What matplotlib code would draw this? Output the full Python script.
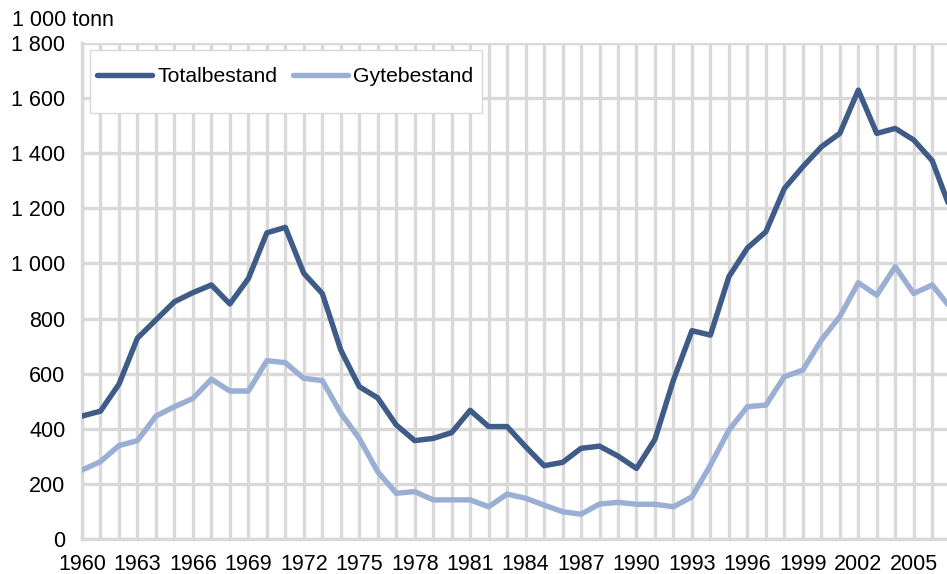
import matplotlib
matplotlib.use("Agg")
import matplotlib.pyplot as plt
from matplotlib.patches import Rectangle

plt.rcParams['font.family'] = ['Liberation Sans', 'DejaVu Sans']

years = list(range(1960, 2008))
totalbestand = [446, 464, 562, 729, 795, 861, 894, 922, 853, 945, 1111, 1131,
                964, 891, 686, 553, 512, 414, 357, 365, 386, 467, 408, 408,
                335, 266, 278, 329, 337, 301, 256, 362, 577, 756, 740, 952,
                1056, 1115, 1272, 1351, 1423, 1472, 1629, 1472, 1490, 1448,
                1373, 1195]
gytebestand = [250, 281, 339, 357, 446, 480, 510, 580, 537, 537, 647, 640,
               583, 575, 457, 365, 244, 166, 172, 142, 142, 142, 117, 163,
               148, 123, 99, 90, 127, 133, 126, 126, 117, 153, 268, 395,
               480, 486, 589, 613, 722, 807, 930, 885, 988, 891, 922, 838]
xtick_years = list(range(1960, 2007, 3))
yticks = list(range(0, 1801, 200))

W, H = 947, 574
fig = plt.figure(figsize=(W/100, H/100), dpi=100)
ax = fig.add_axes([82/W, 1 - 539/H, 1 - 82/W, (539 - 43)/H])

grid_c = '#d9d9d9'
for y in yticks:
    ax.axhline(y, color=grid_c, lw=2.4, zorder=1)
for yr in years:
    ax.axvline(yr, color=grid_c, lw=2.4, zorder=1)

ax.plot(years, totalbestand, color='#3f5b87', lw=3.9, label='Totalbestand',
        solid_capstyle='round', zorder=3)
ax.plot(years, gytebestand, color='#9aafd3', lw=3.9, label='Gytebestand',
        solid_capstyle='round', zorder=3)

ax.set_xlim(1960, 2006.8)
ax.set_ylim(0, 1800)
ax.set_xticks(xtick_years)
ax.set_xticklabels([str(y) for y in xtick_years])
ax.set_yticks(yticks)
ax.set_yticklabels([f"{y:,}".replace(",", " ") for y in yticks])
ax.tick_params(axis='both', length=0, labelsize=15.5)
ax.tick_params(axis='y', pad=12)
ax.tick_params(axis='x', pad=10.5)
for s in ['top', 'right']:
    ax.spines[s].set_visible(False)
for s in ['left', 'bottom']:
    ax.spines[s].set_color(grid_c)
    ax.spines[s].set_linewidth(2.4)

# legend box
box = Rectangle((90/W, 1 - 113/H), (482 - 90)/W, (113 - 50)/H,
                transform=fig.transFigure, facecolor='white',
                edgecolor='#d9d9d9', lw=1.0, zorder=4, clip_on=False)
ax.add_artist(box)

leg = ax.legend(loc='center left', bbox_to_anchor=(97/W, 1 - 77/H),
                bbox_transform=fig.transFigure, ncol=2,
                fontsize=15.2, frameon=False, handlelength=2.6,
                columnspacing=0.75, handletextpad=0.25, borderpad=0,
                borderaxespad=0)
leg.set_zorder(5)

fig.text(12/W, 1 - 20/H, '1 000 tonn', fontsize=15.5, va='center', ha='left')

fig.savefig('out.png', dpi=100)
